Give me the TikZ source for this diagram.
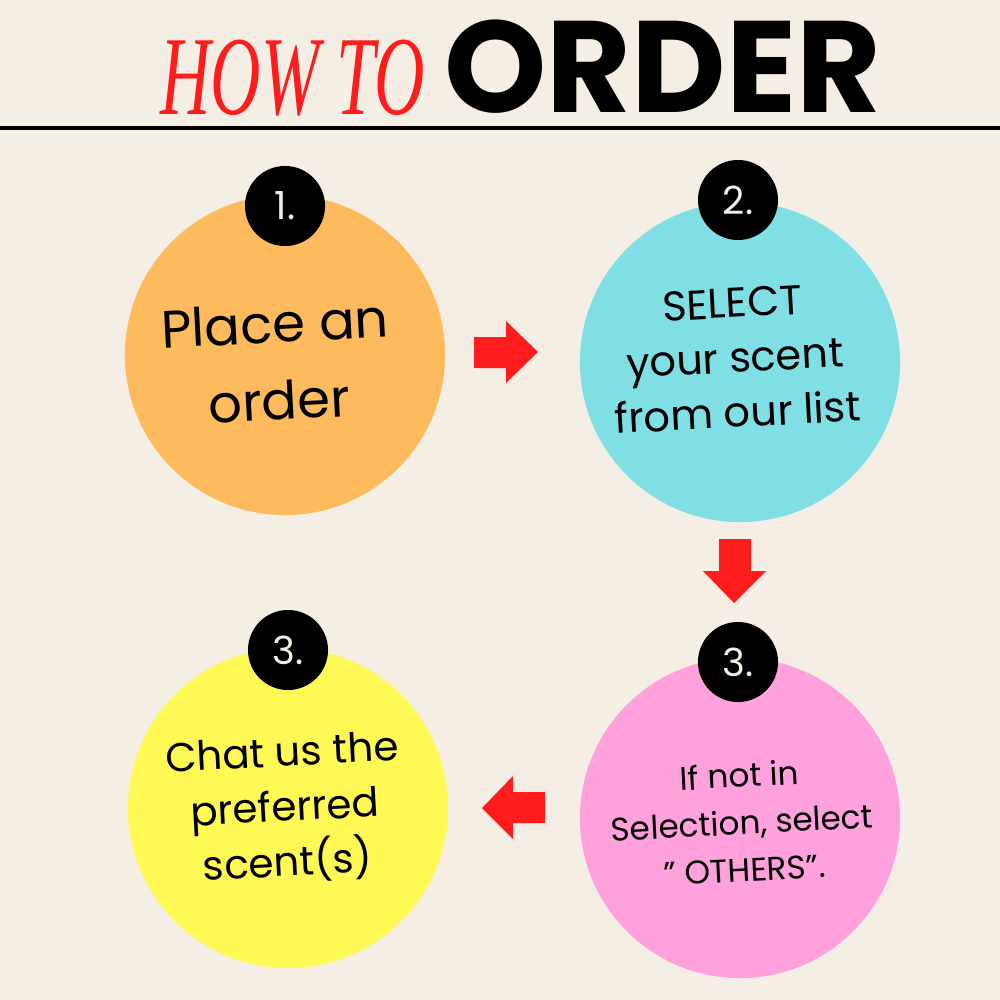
\documentclass[tikz,border=0pt]{standalone}
\usepackage{fontspec}
\setmainfont{Poppins}
\newfontfamily\howtofont{Liberation Serif}
\definecolor{bgcream}{HTML}{F5EEE5}
\definecolor{stepred}{HTML}{FF1C1C}
\definecolor{orangefill}{HTML}{FDBB5E}
\definecolor{cyanfill}{HTML}{80DFE4}
\definecolor{pinkfill}{HTML}{FFA1DC}
\definecolor{yellowfill}{HTML}{FFF955}
\begin{document}
\begin{tikzpicture}[x=0.01cm,y=-0.01cm,line join=round]
\tikzset{stepcircle/.style={circle,minimum size=3.2cm,inner sep=0pt},
  badge/.style={circle,fill=black,minimum size=0.8cm,inner sep=0pt,text=bgcream,font=\fontsize{11}{13}\selectfont},
  steptext/.style n args={2}{align=center,rotate=3,font=\fontsize{#1}{#2}\selectfont},
  blockarrow/.style={fill=stepred}}
\fill[bgcream] (0,0) rectangle (1000,1000);
\useasboundingbox (0,0) rectangle (1000,1000);
% title
\node[anchor=base east,text=stepred,xscale=0.62,inner sep=0pt,font=\howtofont\itshape\fontsize{32}{34}\selectfont] (howto) at (425,114) {HOW TO};
\node[anchor=base west,inner sep=0pt,font=\bfseries\fontsize{37}{40}\selectfont] (order) at (444,112) {ORDER};
\draw[line width=0.035cm] (0,128) -- (1000,128);
% steps
\node[stepcircle,fill=orangefill] (place) at (285,355) {};
\node[stepcircle,fill=cyanfill] (select) at (740,362) {};
\node[stepcircle,fill=pinkfill] (others) at (740,818) {};
\node[stepcircle,fill=yellowfill] (chat) at (288,808) {};
\node[badge] (b1) at (285,206) {1.};
\node[badge] (b2) at (738,200) {2.};
\node[badge] (b3) at (738,662) {3.};
\node[badge] (b4) at (288,650) {3.};
\node[steptext={15}{22}] (placetxt) at (277,362) {Place an\\order};
\node[steptext={11.8}{15.6}] (selecttxt) at (735,358) {SELECT\\your scent\\from our list};
\node[steptext={9.3}{13.4}] (otherstxt) at (742,822) {If not in\\Selection, select\\" OTHERS".};
\node[steptext={11.5}{15.6}] (chattxt) at (285,810) {Chat us the\\preferred\\scent(s)};
% arrows
\fill[blockarrow] (474,337) -- (506,337) -- (506,321) -- (538,352) -- (506,383) -- (506,368) -- (474,368) -- cycle;
\fill[blockarrow] (719,539) -- (751,539) -- (751,571) -- (766,571) -- (734,603) -- (703,571) -- (719,571) -- cycle;
\fill[blockarrow] (545,792) -- (513,792) -- (513,776) -- (482,808) -- (513,839) -- (513,823) -- (545,823) -- cycle;
\end{tikzpicture}
\end{document}
